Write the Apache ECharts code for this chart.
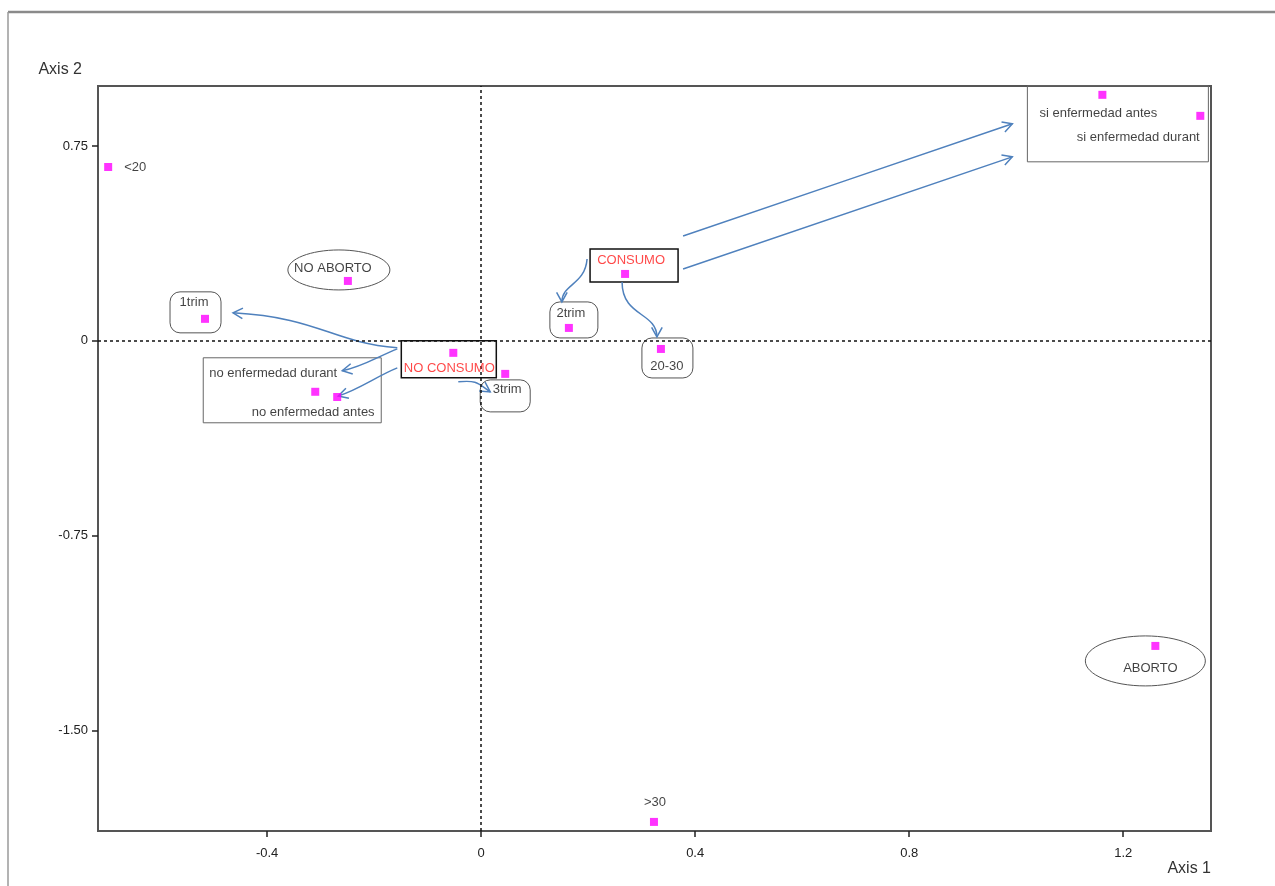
<!DOCTYPE html>
<html><head><meta charset="utf-8">
<script src="https://cdn.jsdelivr.net/npm/echarts@6/dist/echarts.min.js"></script>
<style>html,body{margin:0;padding:0;background:#fff;overflow:hidden}#c{width:1275px;height:886px}</style>
</head><body><div id="c"></div>
<script>
// ---- data ----
const names = ['<20','NO ABORTO','1trim','NO CONSUMO','3trim','no enfermedad durant','no enfermedad antes','CONSUMO','2trim','20-30','si enfermedad antes','si enfermedad durant','ABORTO','>30'];
const axis1 = [-0.697,-0.249,-0.516,-0.052,0.045,-0.310,-0.269,0.269,0.164,0.336,1.161,1.344,1.260,0.323];
const axis2 = [0.670,0.231,0.085,-0.046,-0.127,-0.196,-0.216,0.258,0.050,-0.031,0.948,0.867,-1.175,-1.853];
const xTickValues = [-0.4,0,0.4,0.8,1.2];
const xTickLabels = ['-0.4','0','0.4','0.8','1.2'];
const yTickValues = [0.75,0,-0.75,-1.5];
const yTickLabels = ['0.75','0','-0.75','-1.50'];
const xRange = [-0.716, 1.364];
const yRange = [-1.888, 0.982];
const xTitle = 'Axis 1';
const yTitle = 'Axis 2';

// ---- layout / style (pixel offsets relative to points) ----
const labelLayout = {
  '<20': {dx:16, dy:0, align:'left'},
  'NO ABORTO': {dx:-15, dy:-13},
  '1trim': {dx:-11, dy:-16},
  'NO CONSUMO': {dx:-4, dy:16, color:'#ff1a1a'},
  '3trim': {dx:2, dy:16},
  'no enfermedad durant': {dx:-42, dy:-18},
  'no enfermedad antes': {dx:-24, dy:15},
  'CONSUMO': {dx:6, dy:-14, color:'#ff1a1a'},
  '2trim': {dx:2, dy:-15},
  '20-30': {dx:6, dy:17},
  'si enfermedad antes': {dx:-4, dy:19},
  'si enfermedad durant': {dx:-62, dy:22},
  'ABORTO': {dx:-5, dy:23},
  '>30': {dx:1, dy:-19}
};
const shapes = [
  {type:'rect', at:'NO CONSUMO', x:-52, y:-12, w:95, h:37, r:0, color:'#111', lw:1.5},
  {type:'rect', at:'CONSUMO', x:-35, y:-25, w:88, h:33, r:0, color:'#111', lw:1.5},
  {type:'rect', at:'no enfermedad durant', x:-112, y:-34, w:178, h:65, r:0, color:'#666', lw:1},
  {type:'rect', at:'si enfermedad antes', x:-75, y:-9, w:181, h:76, r:0, color:'#666', lw:1},
  {type:'rect', at:'1trim', x:-35, y:-27, w:51, h:41, r:10, color:'#555', lw:1},
  {type:'rect', at:'2trim', x:-19, y:-26, w:48, h:36, r:10, color:'#555', lw:1},
  {type:'rect', at:'20-30', x:-19, y:-11, w:51, h:40, r:10, color:'#555', lw:1},
  {type:'rect', at:'3trim', x:-25, y:6, w:50, h:32, r:10, color:'#555', lw:1},
  {type:'ellipse', at:'NO ABORTO', cx:-9, cy:-11, rx:51, ry:20, color:'#555', lw:1},
  {type:'ellipse', at:'ABORTO', cx:-10, cy:15, rx:60, ry:25, color:'#555', lw:1}
];
const arrows = [
  {from:'NO CONSUMO', s:[-56,-5], to:'1trim', e:[28,-6], c1:[-67,-6], c2:[87,5]},
  {from:'NO CONSUMO', s:[-56,-4], to:'no enfermedad durant', e:[27,-21], c1:[-20,8], c2:[20,-4]},
  {from:'NO CONSUMO', s:[-56,15], to:'no enfermedad antes', e:[1,-1], c1:[-20,8], c2:[20,-6]},
  {from:'NO CONSUMO', s:[5,29], to:'3trim', e:[-15,18], c1:[20,-2], c2:[-12,-8]},
  {from:'CONSUMO', s:[-38,-15], to:'2trim', e:[-7,-26], c1:[-2,26], c2:[0,-18]},
  {from:'CONSUMO', s:[-3,8], to:'20-30', e:[-4,-12], c1:[0,35], c2:[0,-25]},
  {from:'CONSUMO', s:[58,-38], to:'si enfermedad antes', e:[-90,29], c1:null, c2:null},
  {from:'CONSUMO', s:[58,-5], to:'si enfermedad durant', e:[-188,41], c1:null, c2:null}
];

const chart = echarts.init(document.getElementById('c'), null, {renderer:'canvas'});
const FONT = 'Liberation Sans, Arial, sans-serif';

const seriesData = names.map((n, i) => {
  const L = labelLayout[n] || {dx:0, dy:-14};
  return {
    name: n,
    value: [axis1[i], axis2[i]],
    label: {
      show: true, position: 'inside', offset: [L.dx, L.dy],
      align: L.align || 'center', verticalAlign: 'middle',
      formatter: n,
      color: L.color || '#111', fontSize: 13, fontFamily: FONT
    }
  };
});

const fmt = (vals, labs) => v => {
  const i = vals.findIndex(t => Math.abs(t - v) < 1e-9);
  return i >= 0 ? labs[i] : '';
};

chart.setOption({
  animation: false,
  backgroundColor: '#fff',
  grid: {left: 98, right: 64, top: 86, bottom: 55, show: true, borderColor: '#555', borderWidth: 2, backgroundColor: 'transparent'},
  xAxis: {
    type: 'value', min: xRange[0], max: xRange[1],
    axisLine: {show: true, onZero: false, lineStyle: {color: '#555', width: 2}},
    axisTick: {show: true, customValues: xTickValues, length: 6, lineStyle: {color: '#222', width: 1.5}},
    axisLabel: {customValues: xTickValues, formatter: fmt(xTickValues, xTickLabels), fontSize: 13, color: '#222', margin: 16, fontFamily: FONT},
    splitLine: {show: false}
  },
  yAxis: {
    type: 'value', min: yRange[0], max: yRange[1],
    axisLine: {show: true, onZero: false, lineStyle: {color: '#555', width: 2}},
    axisTick: {show: true, customValues: yTickValues, length: 6, lineStyle: {color: '#222', width: 1.5}},
    axisLabel: {customValues: yTickValues, formatter: fmt(yTickValues, yTickLabels), fontSize: 13, color: '#222', margin: 10, fontFamily: FONT},
    splitLine: {show: false}
  },
  series: [{
    type: 'scatter',
    symbol: 'rect', symbolSize: 8,
    itemStyle: {color: '#ff00ff'},
    data: seriesData,
    z: 5,
    markLine: {
      silent: true, symbol: ['none','none'], animation: false,
      label: {show: false},
      lineStyle: {color: '#111', type: [3,3], width: 1.5},
      data: [{xAxis: 0}, {yAxis: 0}]
    }
  }]
});

// ---- annotations computed from data positions ----
const idx = n => names.indexOf(n);
const P = n => chart.convertToPixel({gridIndex: 0}, [axis1[idx(n)], axis2[idx(n)]]);
const ARROW = '#4f81bd';
const g = [];

// window frame lines
g.push({type:'line', shape:{x1:8, y1:12, x2:1275, y2:12}, style:{stroke:'#8a8a8a', lineWidth:2.5}, silent:true});
g.push({type:'line', shape:{x1:8, y1:12, x2:8, y2:886}, style:{stroke:'#9a9a9a', lineWidth:1.5}, silent:true});

// axis titles
const g0 = chart.convertToPixel({gridIndex:0}, [xRange[0], yRange[1]]);
const g1 = chart.convertToPixel({gridIndex:0}, [xRange[1], yRange[0]]);
g.push({type:'text', x: g0[0] - 16, y: g0[1] - 16, style:{text: yTitle, fontSize: 16, fill:'#333', fontFamily: FONT, align:'right', verticalAlign:'middle'}, silent:true});
g.push({type:'text', x: g1[0], y: g1[1] + 38, style:{text: xTitle, fontSize: 16, fill:'#333', fontFamily: FONT, align:'right', verticalAlign:'middle'}, silent:true});

shapes.forEach(s => {
  const p = P(s.at);
  if (s.type === 'rect') {
    g.push({type:'rect', shape:{x: p[0]+s.x, y: p[1]+s.y, width: s.w, height: s.h, r: s.r}, style:{fill:'none', stroke: s.color, lineWidth: s.lw}, silent:true, z: 1});
  } else {
    g.push({type:'ellipse', shape:{cx: p[0]+s.cx, cy: p[1]+s.cy, rx: s.rx, ry: s.ry}, style:{fill:'none', stroke: s.color, lineWidth: s.lw}, silent:true, z: 1});
  }
});

arrows.forEach(a => {
  const ps = P(a.from), pe = P(a.to);
  const sx = ps[0]+a.s[0], sy = ps[1]+a.s[1];
  const ex = pe[0]+a.e[0], ey = pe[1]+a.e[1];
  let c1x, c1y, c2x, c2y;
  if (a.c1) { c1x = sx+a.c1[0]; c1y = sy+a.c1[1]; c2x = ex+a.c2[0]; c2y = ey+a.c2[1]; }
  else { c1x = sx+(ex-sx)/3; c1y = sy+(ey-sy)/3; c2x = sx+2*(ex-sx)/3; c2y = sy+2*(ey-sy)/3; }
  g.push({type:'bezierCurve', shape:{x1:sx, y1:sy, x2:ex, y2:ey, cpx1:c1x, cpy1:c1y, cpx2:c2x, cpy2:c2y},
          style:{stroke: ARROW, lineWidth: 1.5, fill:'none'}, silent:true, z: 2});
  const ang = Math.atan2(ey - c2y, ex - c2x);
  const L = 11, w = 0.5;
  const p1 = [ex - L*Math.cos(ang - w), ey - L*Math.sin(ang - w)];
  const p2 = [ex - L*Math.cos(ang + w), ey - L*Math.sin(ang + w)];
  g.push({type:'polyline', shape:{points:[p1, [ex, ey], p2]}, style:{stroke: ARROW, lineWidth: 1.5, fill:'none'}, silent:true, z: 2});
});

chart.setOption({graphic: g});
</script>
</body></html>
